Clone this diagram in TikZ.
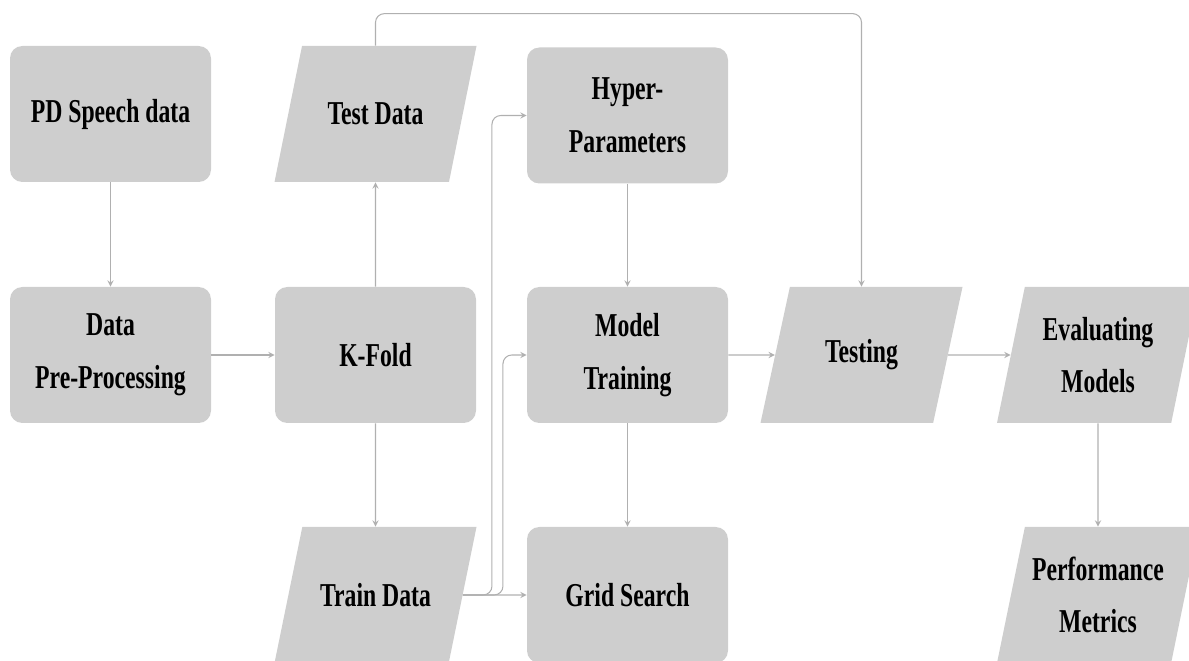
\documentclass[tikz,border=0pt]{standalone}
\usepackage{fontspec}
\newfontfamily\lblfont{Liberation Serif}[FakeStretch=0.71]
\usetikzlibrary{shapes.geometric}
\definecolor{boxgray}{RGB}{206,206,206}
\definecolor{linegray}{RGB}{176,176,176}
\begin{document}
\begin{tikzpicture}[
    bx/.style={fill=boxgray, rounded corners=7pt, minimum width=4.02cm, minimum height=2.72cm,
               inner sep=0pt, align=center, font=\lblfont\bfseries\fontsize{19}{30}\selectfont},
    io/.style={bx, sharp corners, trapezium, trapezium left angle=77.5, trapezium right angle=102.5,
               trapezium stretches body, minimum width=4.04cm, inner ysep=#1},
    io/.default=29pt,
    ar/.style={->, >=stealth, draw=linegray, line width=0.6pt}
]
\useasboundingbox (0,0) rectangle (23.78,13.22);
% first row
\node[bx] (pd)     at (2.21, 10.94) {PD Speech data};
\node[io] (testD)  at (7.51, 10.94) {Test Data};
\node[bx] (hyper)  at (12.55,10.91) {Hyper-\\Parameters};
% second row
\node[bx] (prep)   at (2.21, 6.12) {Data\\Pre-Processing};
\node[bx] (kfold)  at (7.51, 6.12) {K-Fold};
\node[bx] (model)  at (12.55,6.12) {Model\\Training};
\node[io] (testing) at (17.23,6.12) {Testing};
\node[io=14pt] (evalM) at (21.96,6.12) {Evaluating\\Models};
% third row
\node[io] (trainD) at (7.51, 1.32) {Train Data};
\node[bx] (grid)   at (12.55,1.32) {Grid Search};
\node[io=14pt] (perf) at (21.96,1.32) {Performance\\Metrics};

\draw[ar] (pd) -- (prep);
\draw[ar] (prep) -- (kfold);
\draw[ar] (kfold) -- (testD);
\draw[ar] (kfold) -- (trainD);
\draw[ar] (hyper) -- (model);
\draw[ar] (model) -- (grid);
\draw[ar] (model) -- (testing);
\draw[ar] (testing) -- (evalM);
\draw[ar] (evalM) -- (perf);
\draw[ar, rounded corners=5pt] (testD.north) -- ++(0,0.64) -| (testing.north);
\draw[ar] (trainD.east) -- (grid.west);
\draw[ar, rounded corners=5pt] (trainD.east) -- ++(0.58,0) |- (hyper.west);
\draw[ar, rounded corners=5pt] (trainD.east) -- ++(0.80,0) |- (model.west);
\end{tikzpicture}
\end{document}
